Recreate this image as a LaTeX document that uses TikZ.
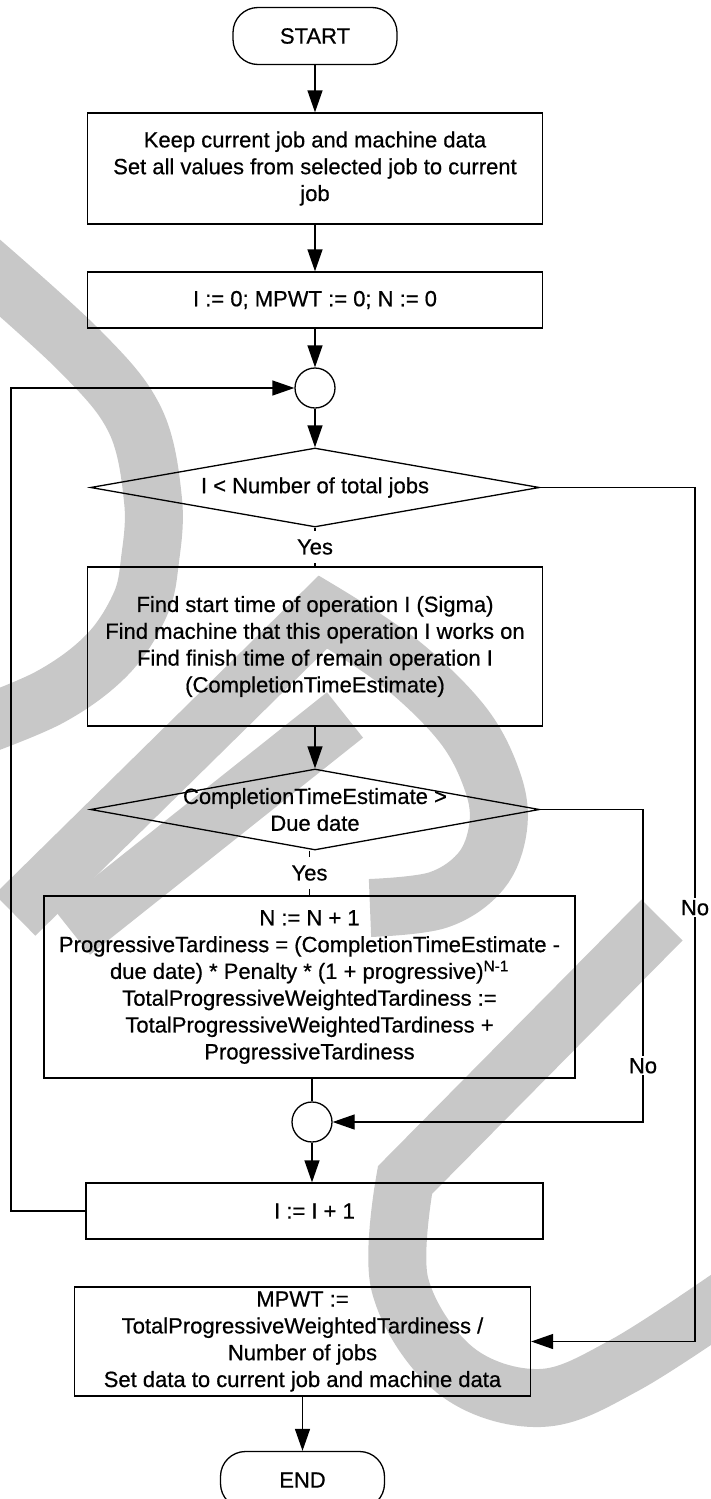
\documentclass[tikz,border=0pt]{standalone}
\usepackage{fontspec}
\setmainfont{Liberation Sans}
\newfontfamily\chartface{Liberation Sans}[BoldFont={Liberation Sans}, BoldFeatures={FakeBold=0.6}]
\usetikzlibrary{arrows.meta,shapes.geometric}
\definecolor{wmark}{RGB}{200,200,200}
\newcommand{\chartfont}{\chartface\bfseries\fontsize{22}{26.8}\selectfont}

\begin{document}
\begin{tikzpicture}[x=1pt,y=-1pt,
  base/.style={draw=black, line width=1.3pt, font=\chartfont, align=center, inner sep=0pt},
  proc/.style={base, rectangle},
  term/.style={base, rectangle, rounded corners=25pt, minimum width=164pt, minimum height=57pt},
  dec/.style={draw=black, line width=1.3pt, diamond, inner sep=0pt},
  dectext/.style={font=\chartfont, align=center, inner sep=0pt},
  joint/.style={draw=black, line width=1.3pt, circle, minimum size=40pt, inner sep=0pt},
  flow/.style={line width=1.3pt, -{Triangle[length=22pt,width=15pt]}},
  link/.style={line width=1.3pt},
  lbl/.style={font=\chartfont, fill=white, inner sep=2pt},
  yeslbl/.style={lbl, inner ysep=8pt},
  band/.style={draw=wmark, line width=58pt, line cap=butt, line join=miter}
]
\useasboundingbox (0,0) rectangle (710,1499);

% background watermark strokes
\draw[band] plot[smooth, tension=0.6] coordinates
  {(-30,252) (80,351) (135,420) (153,500) (150,560) (140,605) (107,655) (50,697) (-30,730)};
\draw[band] (15,915) -- plot[smooth, tension=0.6] coordinates
  {(323,612) (400,663) (463,725) (493,783) (498,828) (481,871) (438,900) (370,908)};
\draw[band] (345,715) -- (72,932);
\draw[band] (662,920) -- plot[smooth, tension=0.6] coordinates
  {(405,1180) (400,1285) (455,1370) (540,1398) (625,1365) (740,1290)};

% nodes
\node[term] (start) at (315,36) {START};
\node[proc, minimum width=455pt, minimum height=111pt] (b1) at (315,168.5)
  {Keep current job and machine data\\Set all values from selected job to current\\job};
\node[proc, minimum width=455pt, minimum height=56pt] (b2) at (315,300)
  {I := 0; MPWT := 0; N := 0};
\node[joint] (c1) at (315,388) {};
\node[dec, minimum width=449pt, minimum height=79pt] (d1) at (315,487.5) {};
\node[dectext] (d1t) at (d1.center) {I < Number of total jobs};
\node[proc, minimum width=455pt, minimum height=159pt] (b3) at (315,646.5)
  {Find start time of operation I (Sigma)\\Find machine that this operation I works on\\Find finish time of remain operation I\\(CompletionTimeEstimate)};
\node[dec, minimum width=449pt, minimum height=81pt] (d2) at (315,809.5) {};
\node[dectext] (d2t) at (d2.center) {CompletionTimeEstimate >\\Due date};
\node[proc, minimum width=531pt, minimum height=182pt] (b4) at (309.5,987)
  {N := N + 1\\ProgressiveTardiness = (CompletionTimeEstimate -\\due date) * Penalty * (1 + progressive)\textsuperscript{N-1}\\TotalProgressiveWeightedTardiness :=\\TotalProgressiveWeightedTardiness +\\ProgressiveTardiness};
\node[joint] (c2) at (312,1122) {};
\node[proc, minimum width=457pt, minimum height=56pt] (b5) at (314.5,1211) {I := I + 1};
\node[proc, minimum width=456pt, minimum height=109pt] (b6) at (302.5,1341.5)
  {MPWT :=\\TotalProgressiveWeightedTardiness /\\Number of jobs\\Set data to current job and machine data};
\node[term] (end) at (302.5,1480) {END};

% turning points of the side connectors
\coordinate (r1) at (695,487.5);
\coordinate (r2) at (643,809.5);
\coordinate (l1) at (11,1211);

% connectors
\draw[flow] (start) -- (b1);
\draw[flow] (b1) -- (b2);
\draw[flow] (b2) -- (c1);
\draw[flow] (c1) -- (d1);
\draw[link] (d1.south) -- node[yeslbl] {Yes} (b3.north);
\draw[flow] (b3) -- (d2);
\draw[link] (b4.north |- d2.south) -- node[yeslbl] {Yes} (b4.north);
\draw[flow] (d2.east) -- (r2) |- node[lbl, pos=0.41] {No} (c2.east);
\draw[link] (c2.north |- b4.south) -- (c2.north);
\draw[flow] (c2.south) -- (c2.south |- b5.north);
\draw[flow] (b5.west) -- (l1) |- (c1.west);
\draw[flow] (d1.east) -- (r1) |- node[lbl, pos=0.246] {No} (b6.east);
\draw[flow] (b6) -- (end);
\end{tikzpicture}
\end{document}
